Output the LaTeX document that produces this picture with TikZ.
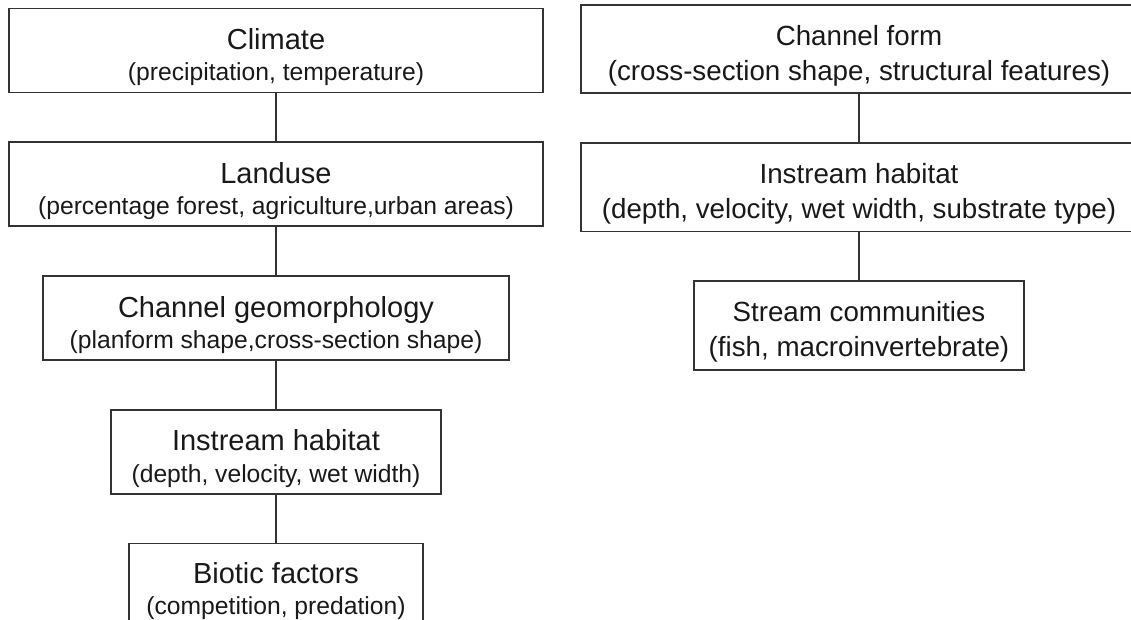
\documentclass[tikz,border=0pt]{standalone}
\usepackage{fontspec}
\setmainfont{Liberation Sans}
\usetikzlibrary{positioning}

\newcommand{\titlefont}{\fontsize{21.75}{23.5}\selectfont\rule{0pt}{26pt}}
\newcommand{\notefont}{\fontsize{18.5}{23.5}\selectfont}
\newcommand{\rightfont}{\fontsize{20.8}{26}\selectfont}

\begin{document}
\begin{tikzpicture}[x=0.75pt, y=-0.75pt, node distance=36pt,
  box/.style={draw=black!80, line width=1.3pt, rectangle, inner sep=0pt,
    align=center, text=black!90, minimum height=63pt, font=\notefont},
  rbox/.style={box, font=\rightfont, minimum width=417pt, minimum height=66.5pt},
  link/.style={draw=black!80, line width=1pt}]

\clip (0,0) rectangle (1131,619);

% left column
\node (Climate) at (276, 50.5) [box, minimum width=400.5pt]
  {\titlefont Climate\\(precipitation, temperature)};
\node (Landuse) [below = of Climate, box, minimum width=401pt]
  {\titlefont Landuse\\(percentage forest, agriculture,urban areas)};
\node (Geo) [below = of Landuse, box, minimum width=350pt]
  {\titlefont Channel geomorphology\\(planform shape,cross-section shape)};
\node (HabL) [below = of Geo, box, minimum width=247pt]
  {\titlefont Instream habitat\\(depth, velocity, wet width)};
\node (Biotic) [below = of HabL, box, minimum width=220.5pt, minimum height=61.5pt]
  {\titlefont Biotic factors\\(competition, predation)};

% right column
\node (Form) at (859, 49) [rbox, minimum height=66pt]
  {\rule{0pt}{25pt}Channel form\\(cross-section shape, structural features)};
\node (HabR) [below = of Form, rbox]
  {\rule{0pt}{25pt}Instream habitat\\(depth, velocity, wet width, substrate type)};
\node (Stream) [below = of HabR, rbox, minimum width=247.5pt]
  {\rule{0pt}{25pt}Stream communities\\(fish, macroinvertebrate)};

\path[link] (Climate) edge (Landuse);
\path[link] (Landuse) edge (Geo);
\path[link] (Geo) edge (HabL);
\path[link] (HabL) edge (Biotic);

\path[link] (Form) edge (HabR);
\path[link] (HabR) edge (Stream);
\end{tikzpicture}
\end{document}
